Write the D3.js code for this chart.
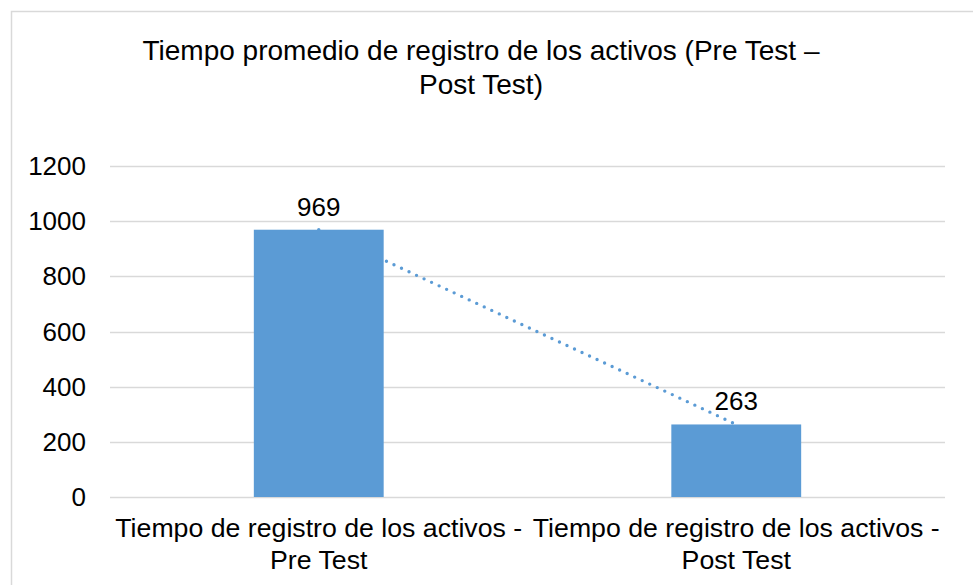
<!DOCTYPE html>
<html>
<head>
<meta charset="utf-8">
<script src="https://cdn.jsdelivr.net/npm/d3@7"></script>
<style>
  html, body { margin: 0; padding: 0; background: #fff; }
  svg text { font-family: "Liberation Sans", Arial, sans-serif; fill: #000; }
</style>
</head>
<body>
<svg id="chart" width="973" height="585"></svg>
<script>
// chart data
const categories = [
  ['Tiempo de registro de los activos -', 'Pre Test'],
  ['Tiempo de registro de los activos -', 'Post Test'],
];
const values = [969, 263];
const yTicks = [0, 200, 400, 600, 800, 1000, 1200];
const titleLines = ['Tiempo promedio de registro de los activos (Pre Test –', 'Post Test)'];

const width = 973;
const height = 585;
const margin = { top: 166, right: 28, bottom: 88, left: 110 };

const svg = d3.select('#chart');

// outer chart border (runs off the right and bottom of the picture)
svg.append('rect')
  .attr('x', 11.5)
  .attr('y', 11.5)
  .attr('width', 1000)
  .attr('height', 1000)
  .attr('fill', 'none')
  .attr('stroke', '#d9d9d9')
  .attr('stroke-width', 1.5);

const x = d3.scaleBand()
  .domain(d3.range(categories.length))
  .range([margin.left, width - margin.right])
  .paddingInner(0.689)
  .paddingOuter(0.3445);

const y = d3.scaleLinear()
  .domain([0, 1200])
  .range([height - margin.bottom, margin.top]);

// Gridlines
svg.append('g')
  .selectAll('line')
  .data(yTicks)
  .enter()
  .append('line')
  .attr('x1', margin.left)
  .attr('x2', width - margin.right)
  .attr('y1', (d) => Math.round(y(d)) + 0.5)
  .attr('y2', (d) => Math.round(y(d)) + 0.5)
  .attr('stroke', '#d9d9d9')
  .attr('stroke-width', 1.5);

// Y axis labels
svg.append('g')
  .selectAll('text')
  .data(yTicks)
  .enter()
  .append('text')
  .attr('x', 86)
  .attr('y', (d) => y(d))
  .attr('dy', '0.35em')
  .attr('text-anchor', 'end')
  .style('font-size', '26px')
  .text((d) => d);

// Linear trendline (dotted), drawn under the bars
const centers = values.map((v, i) => x(i) + x.bandwidth() / 2);
const xs = d3.range(1, values.length + 1);
const mx = d3.mean(xs);
const my = d3.mean(values);
const slope = d3.sum(xs, (xi, i) => (xi - mx) * (values[i] - my)) / d3.sum(xs, (xi) => (xi - mx) ** 2);
const intercept = my - slope * mx;
const trend = xs.map((xi, i) => [centers[i], y(intercept + slope * xi)]);

svg.append('path')
  .attr('d', d3.line()(trend))
  .attr('fill', 'none')
  .attr('stroke', '#5b9bd5')
  .attr('stroke-width', 3.4)
  .attr('stroke-linecap', 'round')
  .attr('stroke-dasharray', '0 8.3');

// Bars
svg.append('g')
  .selectAll('rect')
  .data(values)
  .enter()
  .append('rect')
  .attr('x', (d, i) => x(i))
  .attr('y', (d) => y(d))
  .attr('width', x.bandwidth())
  .attr('height', (d) => y(0) - y(d))
  .attr('fill', '#5b9bd5');

// Data labels
svg.append('g')
  .selectAll('text')
  .data(values)
  .enter()
  .append('text')
  .attr('x', (d, i) => centers[i])
  .attr('y', (d) => y(d) - 14)
  .attr('text-anchor', 'middle')
  .style('font-size', '26px')
  .text((d) => d);

// Category labels
const catG = svg.append('g')
  .selectAll('text')
  .data(categories)
  .enter()
  .append('text')
  .attr('text-anchor', 'middle')
  .style('font-size', '26.7px');

catG.selectAll('tspan')
  .data((d, i) => d.map((line) => ({ line, i })))
  .enter()
  .append('tspan')
  .attr('x', (d) => centers[d.i])
  .attr('y', (d, j) => 537 + j * 32)
  .text((d) => d.line);

// Title
svg.append('text')
  .attr('text-anchor', 'middle')
  .style('font-size', '28px')
  .selectAll('tspan')
  .data(titleLines)
  .enter()
  .append('tspan')
  .attr('x', 481)
  .attr('y', (d, i) => 60 + i * 34)
  .text((d) => d);
</script>
</body>
</html>
